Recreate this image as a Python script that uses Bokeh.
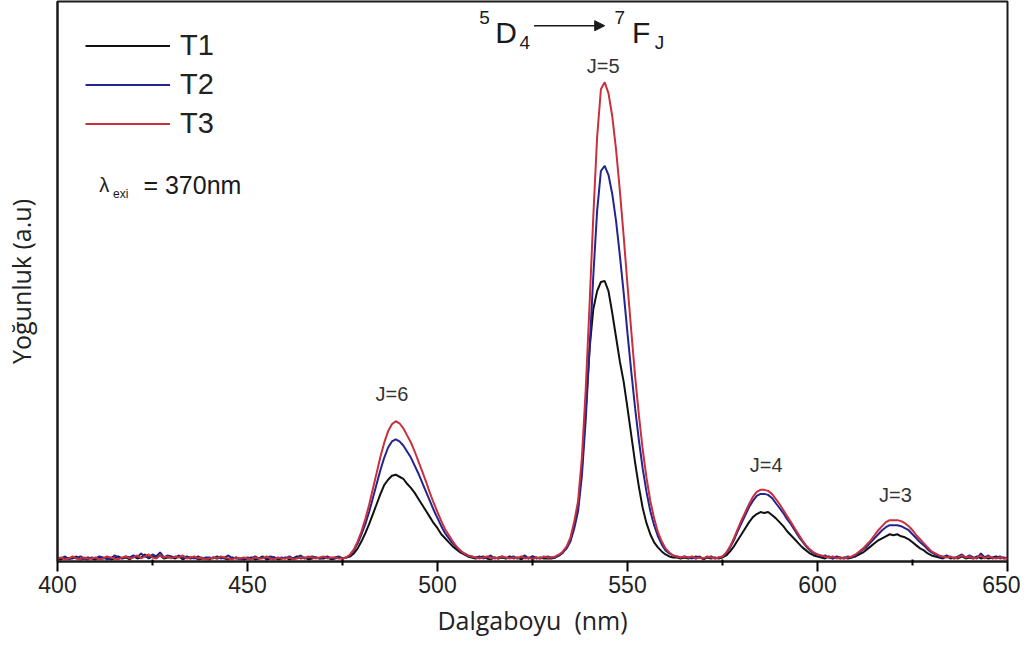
from bokeh.plotting import figure
from bokeh.models import Range1d, FixedTicker, Legend, LegendItem, Label, Arrow, NormalHead
from bokeh.embed import file_html
from bokeh.resources import INLINE

# wavelength grid (nm), 1 nm steps 400..650
wavelength = list(range(400, 651))

t1 = [
    3, 2, 4, 3, 3, 5, 2, 3, 4, 3,
    2, 4, 3, 4, 2, 3, 5, 3, 4, 2,
    5, 3, 4, 7, 3, 5, 4, 6, 3, 4,
    4, 3, 5, 2, 4, 3, 4, 2, 3, 3,
    2, 4, 3, 4, 3, 2, 4, 3, 3, 2,
    3, 4, 2, 3, 5, 2, 3, 4, 2, 3,
    4, 2, 3, 5, 3, 4, 2, 3, 4, 3,
    3, 4, 2, 3, 4, 3, 4, 5, 8, 13,
    20, 28, 37, 47, 57, 67, 76, 81, 85, 86,
    84, 82, 77, 73, 68, 62, 56, 50, 44, 38,
    33, 27, 23, 19, 15, 12, 9, 7, 5, 4,
    3, 4, 5, 3, 2, 4, 3, 4, 3, 5,
    3, 4, 2, 4, 3, 5, 3, 4, 3, 3,
    3, 4, 6, 9, 14, 22, 36, 55, 92, 150,
    210, 250, 268, 277, 278, 268, 246, 222, 198, 178,
    152, 125, 98, 74, 53, 38, 27, 19, 14, 10,
    7, 5, 4, 4, 3, 4, 3, 4, 3, 5,
    2, 4, 3, 4, 3, 4, 6, 10, 15, 21,
    27, 33, 39, 44, 47, 49, 48, 49, 46, 43,
    39, 35, 30, 26, 22, 18, 14, 11, 8, 6,
    5, 4, 3, 5, 3, 4, 3, 4, 3, 4,
    5, 7, 9, 12, 15, 18, 21, 23, 25, 27,
    26, 27, 25, 24, 22, 19, 16, 13, 11, 8,
    6, 5, 4, 3, 5, 3, 4, 3, 5, 3,
    4, 3, 5, 3, 4, 3, 4, 5, 3, 4,
    3,
]

t2 = [
    4, 3, 5, 2, 4, 3, 5, 3, 2, 4,
    3, 5, 4, 2, 3, 6, 4, 3, 5, 4,
    6, 4, 8, 5, 4, 7, 5, 9, 4, 6,
    5, 4, 6, 3, 5, 4, 3, 5, 3, 4,
    4, 3, 5, 3, 4, 6, 3, 4, 2, 3,
    4, 3, 5, 3, 4, 3, 5, 4, 3, 4,
    3, 5, 3, 4, 6, 3, 4, 5, 4, 3,
    4, 5, 3, 4, 5, 3, 4, 6, 11, 18,
    27, 37, 49, 63, 77, 91, 103, 113, 119, 121,
    119, 115, 109, 103, 95, 87, 78, 69, 60, 51,
    43, 35, 28, 23, 18, 14, 10, 8, 6, 5,
    4, 5, 3, 4, 6, 3, 4, 5, 3, 4,
    5, 3, 4, 6, 3, 5, 4, 3, 4, 5,
    4, 4, 6, 9, 13, 20, 33, 50, 85, 140,
    209, 283, 347, 387, 392, 383, 364, 337, 303, 266,
    226, 188, 152, 120, 92, 69, 50, 36, 25, 17,
    11, 8, 6, 5, 4, 5, 4, 3, 5, 4,
    3, 4, 5, 3, 4, 5, 8, 14, 21, 30,
    38, 46, 54, 60, 65, 67, 67, 66, 63, 58,
    53, 48, 42, 37, 31, 25, 20, 15, 11, 8,
    7, 5, 6, 4, 3, 5, 4, 3, 5, 4,
    6, 9, 12, 15, 19, 23, 27, 31, 34, 36,
    36, 36, 35, 33, 31, 27, 23, 19, 16, 12,
    9, 7, 5, 4, 6, 4, 3, 5, 7, 4,
    6, 4, 3, 8, 4, 6, 3, 4, 5, 3,
    4,
]

t3 = [
    3, 4, 2, 3, 5, 3, 2, 4, 3, 3,
    4, 2, 3, 5, 4, 3, 2, 4, 5, 3,
    4, 6, 3, 5, 7, 4, 3, 6, 4, 5,
    3, 5, 4, 6, 3, 4, 5, 3, 4, 2,
    3, 4, 3, 5, 4, 3, 2, 4, 3, 4,
    3, 2, 4, 3, 3, 5, 3, 2, 4, 3,
    3, 4, 2, 3, 4, 3, 5, 4, 3, 4,
    5, 3, 4, 4, 3, 3, 4, 7, 12, 20,
    30, 42, 56, 72, 88, 104, 118, 129, 136, 139,
    137, 132, 125, 118, 109, 99, 89, 79, 68, 58,
    49, 40, 32, 26, 20, 15, 11, 8, 6, 5,
    4, 3, 4, 5, 3, 4, 3, 5, 4, 3,
    4, 3, 5, 3, 4, 2, 4, 3, 5, 4,
    4, 5, 7, 10, 15, 24, 40, 60, 103, 170,
    253, 342, 420, 468, 475, 464, 441, 408, 367, 322,
    274, 228, 184, 145, 111, 83, 60, 43, 29, 20,
    13, 9, 6, 5, 4, 5, 4, 5, 3, 4,
    3, 5, 4, 3, 4, 5, 9, 15, 23, 32,
    41, 49, 57, 64, 69, 71, 71, 70, 67, 62,
    57, 51, 45, 39, 33, 27, 21, 16, 12, 9,
    7, 6, 5, 4, 5, 3, 4, 3, 4, 5,
    7, 10, 13, 17, 21, 26, 31, 35, 39, 41,
    41, 41, 40, 38, 35, 31, 26, 22, 18, 14,
    10, 8, 6, 5, 4, 5, 3, 4, 6, 4,
    5, 3, 4, 6, 3, 5, 4, 3, 4, 3,
    3,
]

series_names = ["T1", "T2", "T3"]
series_colors = ["#111111", "#24248f", "#c8303c"]

x_ticks = [400, 450, 500, 550, 600, 650]
x_minor = [425, 475, 525, 575, 625]

# peak annotations
peak_labels = ["J=6", "J=5", "J=4", "J=3"]
peak_x = [488.0, 543.6, 586.5, 620.5]
peak_y = [166, 491, 96, 66]

p = figure(width=1020, height=639, output_backend="svg", toolbar_location=None,
           x_range=Range1d(400, 650), y_range=Range1d(0, 555),
           min_border_left=49, min_border_right=13, min_border_top=1, min_border_bottom=78)
p.background_fill_color = "white"
p.border_fill_color = "white"
p.grid.visible = False
p.outline_line_color = "#1a1a1a"
p.outline_line_width = 2

renderers = []
for name, ys, col in zip(series_names, [t1, t2, t3], series_colors):
    r = p.line(wavelength, ys, line_color=col, line_width=2)
    renderers.append(r)

legend = Legend(items=[LegendItem(label=n, renderers=[r]) for n, r in zip(series_names, renderers)],
                location="top_left", margin=28, padding=0, spacing=6,
                glyph_width=85, glyph_height=29, label_height=29, label_standoff=10,
                label_text_font="Liberation Sans", label_text_font_size="29px",
                label_text_color="#222222",
                border_line_color=None, background_fill_alpha=0)
p.add_layout(legend)

# x axis
xa = p.xaxis[0]
xa.ticker = FixedTicker(ticks=x_ticks, minor_ticks=x_minor)
xa.axis_line_width = 2
xa.axis_line_color = "#1a1a1a"
xa.major_tick_line_width = 2
xa.major_tick_out = 10
xa.major_tick_in = 0
xa.minor_tick_out = 4
xa.minor_tick_in = 2
xa.minor_tick_line_width = 2
xa.major_label_text_font = "Liberation Sans"
xa.major_label_text_font_size = "23px"
xa.major_label_text_color = "#222222"
xa.major_label_standoff = 4
xa.axis_label = "Dalgaboyu \u00a0(nm)"
xa.axis_label_text_font = "Open Sans"
xa.axis_label_text_font_size = "25px"
xa.axis_label_text_font_style = "normal"
xa.axis_label_text_color = "#222222"
xa.axis_label_standoff = 7

# y axis
ya = p.yaxis[0]
ya.ticker = FixedTicker(ticks=[])
ya.axis_line_width = 2
ya.axis_line_color = "#1a1a1a"
ya.axis_label = "Yoğunluk (a.u)"
ya.axis_label_text_font = "Open Sans"
ya.axis_label_text_font_size = "25px"
ya.axis_label_text_font_style = "normal"
ya.axis_label_text_color = "#222222"
ya.axis_label_standoff = 20

# peak labels
for lab, px, py in zip(peak_labels, peak_x, peak_y):
    p.add_layout(Label(x=px, y=py, text=lab, text_align="center", text_baseline="middle",
                       text_font="Liberation Sans", text_font_size="20px", text_color="#333333"))


def lbl(x, y, t, size):
    p.add_layout(Label(x=x, y=y, text=t, text_align="left", text_baseline="middle",
                       text_font="Liberation Sans", text_font_size=size, text_color="#1a1a1a"))


# transition annotation 5D4 -> 7FJ
lbl(511.0, 539, "5", "19px")
lbl(515.2, 524, "D", "30px")
lbl(521.6, 514, "4", "19px")
lbl(546.6, 539, "7", "19px")
lbl(551.2, 524, "F", "30px")
lbl(557.2, 514, "J", "19px")
p.add_layout(Arrow(x_start=525.4, y_start=531, x_end=544.0, y_end=531,
                   line_color="#1a1a1a", line_width=1.5,
                   end=NormalHead(size=10, fill_color="#1a1a1a", line_color="#1a1a1a")))

# excitation wavelength
lbl(411.0, 373, "λ", "20px")
lbl(414.6, 364, "exi", "12px")
lbl(422.6, 373, "= 370nm", "25px")

open("out.html", "w").write(file_html(p, INLINE))
